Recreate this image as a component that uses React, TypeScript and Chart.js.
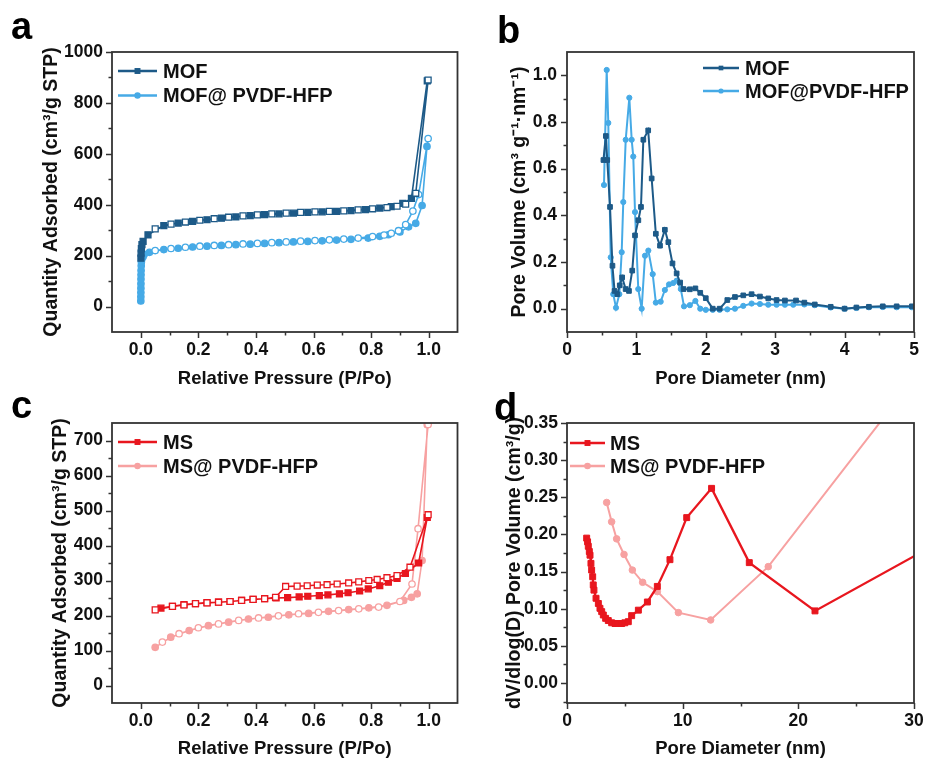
import React, { useEffect, useRef } from 'react';
import { Chart, registerables } from 'chart.js';
Chart.register(...registerables);

const FONT = "'Liberation Sans', Arial, Helvetica, sans-serif";
const INK = '#111111';
const DARK_BLUE = '#1d5a88';
const LIGHT_BLUE = '#46aae6';
const RED = '#e8161e';
const PINK = '#f7a1a1';

// ---------- Panel a : N2 isotherms, MOF ----------
const aLabels = ['MOF', 'MOF@ PVDF-HFP'];
const aMofAdsX = [0.0004, 0.001, 0.002, 0.004, 0.008, 0.025, 0.08, 0.13, 0.18, 0.23, 0.28, 0.33, 0.38, 0.43, 0.48, 0.53, 0.58, 0.63, 0.68, 0.73, 0.78, 0.83, 0.87, 0.91, 0.94, 0.995];
const aMofAdsY = [190, 210, 228, 243, 256, 282, 318, 328, 335, 341, 347, 352, 357, 361, 364, 367, 370, 372, 374, 377, 381, 387, 393, 405, 425, 887];
const aMofDesX = [0.998, 0.955, 0.92, 0.89, 0.855, 0.805, 0.755, 0.705, 0.655, 0.605, 0.555, 0.505, 0.455, 0.405, 0.355, 0.305, 0.255, 0.205, 0.155, 0.105, 0.05];
const aMofDesY = [890, 445, 402, 394, 389, 384, 380, 376, 374, 372, 370, 367, 364, 360, 356, 351, 345, 339, 332, 324, 305];
const aPvdfAdsX = [0.0001, 0.0002, 0.0003, 0.0004, 0.0005, 0.0006, 0.0008, 0.001, 0.0015, 0.002, 0.004, 0.008, 0.012, 0.03, 0.08, 0.13, 0.18, 0.23, 0.28, 0.33, 0.38, 0.43, 0.48, 0.53, 0.58, 0.63, 0.68, 0.73, 0.79, 0.83, 0.86, 0.9, 0.93, 0.955, 0.977, 0.994];
const aPvdfAdsY = [22, 38, 55, 72, 90, 108, 125, 142, 160, 175, 188, 196, 205, 213, 224, 229, 234, 237, 240, 243, 245, 248, 251, 254, 256, 258, 261, 264, 269, 276, 282, 293, 313, 327, 397, 629];
const aPvdfDesX = [0.998, 0.965, 0.945, 0.92, 0.895, 0.87, 0.845, 0.805, 0.755, 0.705, 0.655, 0.605, 0.555, 0.505, 0.455, 0.405, 0.355, 0.305, 0.255, 0.205, 0.155, 0.105, 0.05];
const aPvdfDesY = [660, 440, 375, 322, 298, 288, 281, 275, 269, 265, 262, 259, 257, 254, 251, 248, 246, 243, 240, 237, 233, 228, 220];
const aXTicks = [0, 0.2, 0.4, 0.6, 0.8, 1.0];
const aYTicks = [0, 200, 400, 600, 800, 1000];

// ---------- Panel b : pore size distribution, MOF ----------
const bLabels = ['MOF', 'MOF@PVDF-HFP'];
const bMofX = [0.525, 0.56, 0.58, 0.62, 0.655, 0.685, 0.725, 0.76, 0.795, 0.845, 0.893, 0.94, 0.98, 1.028, 1.066, 1.10, 1.17, 1.22, 1.28, 1.34, 1.41, 1.46, 1.52, 1.58, 1.63, 1.68, 1.77, 1.85, 1.92, 2.0, 2.1, 2.2, 2.31, 2.42, 2.54, 2.66, 2.78, 2.9, 3.02, 3.14, 3.3, 3.42, 3.57, 3.8, 4.0, 4.17, 4.35, 4.55, 4.75, 4.97];
const bMofY = [0.637, 0.74, 0.637, 0.436, 0.184, 0.076, 0.062, 0.1, 0.134, 0.084, 0.076, 0.163, 0.314, 0.379, 0.436, 0.724, 0.764, 0.558, 0.321, 0.27, 0.338, 0.285, 0.194, 0.151, 0.112, 0.084, 0.083, 0.087, 0.068, 0.045, 0.0, 0.0, 0.037, 0.05, 0.057, 0.062, 0.052, 0.044, 0.037, 0.035, 0.035, 0.026, 0.018, 0.008, 0.0, 0.005, 0.008, 0.01, 0.01, 0.01];
const bPvdfX = [0.533, 0.572, 0.595, 0.63, 0.667, 0.706, 0.754, 0.788, 0.811, 0.846, 0.898, 0.932, 0.955, 0.98, 1.027, 1.076, 1.124, 1.172, 1.235, 1.28, 1.35, 1.41, 1.47, 1.53, 1.58, 1.64, 1.686, 1.77, 1.85, 1.92, 2.0, 2.1, 2.2, 2.31, 2.42, 2.54, 2.66, 2.78, 2.9, 3.02, 3.14, 3.26, 3.42, 3.57, 3.8, 4.0, 4.17, 4.35, 4.55, 4.75, 4.97];
const bPvdfY = [0.53, 1.023, 0.796, 0.22, 0.062, 0.004, 0.062, 0.242, 0.457, 0.724, 0.904, 0.724, 0.652, 0.414, 0.084, 0.0, 0.227, 0.249, 0.148, 0.026, 0.03, 0.08, 0.104, 0.11, 0.12, 0.084, 0.01, 0.015, 0.033, 0.0, -0.005, -0.005, -0.005, -0.003, 0.0, 0.012, 0.022, 0.02, 0.017, 0.017, 0.017, 0.017, 0.018, 0.015, 0.005, 0.0, 0.003, 0.006, 0.007, 0.006, 0.006];
const bXTicks = [0, 1, 2, 3, 4, 5];
const bYTicks = [0, 0.2, 0.4, 0.6, 0.8, 1.0];

// ---------- Panel c : N2 isotherms, MS ----------
const cLabels = ['MS', 'MS@ PVDF-HFP'];
const cMsAdsX = [0.07, 0.11, 0.15, 0.19, 0.23, 0.27, 0.31, 0.35, 0.39, 0.43, 0.47, 0.51, 0.55, 0.58, 0.62, 0.65, 0.69, 0.72, 0.76, 0.79, 0.83, 0.86, 0.89, 0.919, 0.965, 0.995];
const cMsAdsY = [221, 226, 231, 234, 237, 238, 240, 243, 246, 248, 250, 251, 253, 255, 257, 259, 262, 265, 270, 276, 285, 295, 306, 320, 350, 480];
const cMsDesX = [0.998, 0.935, 0.89, 0.855, 0.821, 0.792, 0.757, 0.722, 0.682, 0.647, 0.613, 0.578, 0.543, 0.503, 0.468, 0.43, 0.39, 0.35, 0.31, 0.27, 0.23, 0.19, 0.15, 0.11, 0.05];
const cMsDesY = [488, 338, 314, 308, 303, 300, 296, 293, 290, 288, 287, 285, 284, 283, 252, 248, 246, 243, 240, 238, 236, 234, 230, 226, 216];
const cPvdfAdsX = [0.05, 0.104, 0.168, 0.235, 0.305, 0.374, 0.443, 0.514, 0.583, 0.652, 0.722, 0.792, 0.855, 0.913, 0.94, 0.96, 0.977, 0.995];
const cPvdfAdsY = [109, 138, 157, 171, 181, 190, 195, 202, 206, 212, 217, 222, 229, 243, 252, 262, 357, 745];
const cPvdfDesX = [0.998, 0.963, 0.942, 0.9, 0.826, 0.757, 0.687, 0.617, 0.548, 0.478, 0.409, 0.34, 0.27, 0.2, 0.133, 0.075];
const cPvdfDesY = [746, 448, 290, 240, 224, 219, 214, 209, 205, 199, 193, 186, 176, 165, 148, 124];
const cXTicks = [0, 0.2, 0.4, 0.6, 0.8, 1.0];
const cYTicks = [0, 100, 200, 300, 400, 500, 600, 700];

// ---------- Panel d : pore size distribution, MS ----------
const dLabels = ['MS', 'MS@ PVDF-HFP'];
const dMsX = [1.70, 1.78, 1.84, 1.93, 1.99, 2.07, 2.13, 2.22, 2.27, 2.33, 2.51, 2.71, 2.85, 3.0, 3.14, 3.34, 3.57, 3.86, 4.15, 4.44, 4.73, 5.0, 5.3, 5.59, 6.17, 6.95, 7.81, 8.9, 10.35, 12.5, 15.76, 21.44, 35.5];
const dMsY = [0.195, 0.19, 0.184, 0.177, 0.172, 0.161, 0.152, 0.143, 0.132, 0.125, 0.114, 0.107, 0.1005, 0.096, 0.0915, 0.087, 0.084, 0.081, 0.080, 0.080, 0.080, 0.081, 0.0825, 0.0906, 0.098, 0.109, 0.130, 0.166, 0.2226, 0.262, 0.162, 0.097, 0.218];
const dPvdfX = [3.43, 3.86, 4.29, 4.93, 5.65, 6.54, 7.81, 9.63, 12.42, 17.4, 31.0];
const dPvdfY = [0.243, 0.217, 0.194, 0.173, 0.152, 0.1355, 0.123, 0.0947, 0.0848, 0.1566, 0.43];
const dXTicks = [0, 10, 20, 30];
const dYTicks = [0, 0.05, 0.1, 0.15, 0.2, 0.25, 0.3, 0.35];

// ---------- helpers ----------
function pts(xs: number[], ys: number[]) {
  return xs.map((x, i) => ({ x, y: ys[i] }));
}

function loopSeries(label: string, adsX: number[], adsY: number[], desX: number[], desY: number[], color: string, style: string, radius: number, lw: number) {
  const data = pts(adsX, adsY).concat(pts(desX, desY));
  const bg = adsX.map(() => color).concat(desX.map(() => '#ffffff'));
  return {
    label, data, borderColor: color, backgroundColor: color, pointBackgroundColor: bg,
    pointBorderColor: color, pointStyle: style, pointRadius: radius, pointBorderWidth: 1.3,
    borderWidth: lw, tension: 0, fill: false,
  };
}

function plainSeries(label: string, xs: number[], ys: number[], color: string, style: string, radius: number, lw: number) {
  return {
    label, data: pts(xs, ys), borderColor: color, backgroundColor: color, pointBackgroundColor: color,
    pointBorderColor: color, pointStyle: style, pointRadius: radius, pointBorderWidth: 1,
    borderWidth: lw, tension: 0, fill: false,
  };
}

const framePlugin = {
  id: 'frame',
  afterDraw(chart: any, _args: any, o: any) {
    const { ctx, chartArea: ca, scales } = chart;
    ctx.save();
    ctx.strokeStyle = '#333333';
    ctx.lineWidth = 1.5;
    const tick = (scale: any, minor: number, majors: number[], horiz: boolean) => {
      const i0 = Math.ceil(scale.min / minor - 1e-6);
      const i1 = Math.floor(scale.max / minor + 1e-6);
      for (let i = i0; i <= i1; i++) {
        const v = i * minor;
        const isMajor = majors.some((m) => Math.abs(m - v) < minor * 0.01);
        const atEdge = Math.abs(v - scale.min) < minor * 0.01 || Math.abs(v - scale.max) < minor * 0.01;
        if (atEdge && !isMajor) continue;
        const len = isMajor ? 6 : 3.5;
        const p = Math.round(scale.getPixelForValue(v)) + 0.5;
        ctx.beginPath();
        if (horiz) { ctx.moveTo(p, ca.bottom); ctx.lineTo(p, ca.bottom + len); }
        else { ctx.moveTo(ca.left, p); ctx.lineTo(ca.left - len, p); }
        ctx.stroke();
      }
    };
    tick(scales.x, o.xMinor, o.xMajors, true);
    tick(scales.y, o.yMinor, o.yMajors, false);
    ctx.lineWidth = 1.8;
    ctx.strokeRect(ca.left, ca.top, ca.right - ca.left, ca.bottom - ca.top);

    // legend
    chart.data.datasets.forEach((ds: any, i: number) => {
      const x0 = ca.left + o.legX;
      const y = ca.top + o.legY + i * o.legGap;
      ctx.strokeStyle = ds.borderColor;
      ctx.lineWidth = 2.4;
      ctx.beginPath();
      ctx.moveTo(x0, y);
      ctx.lineTo(x0 + o.legLen, y);
      ctx.stroke();
      const cx = x0 + o.legLen / 2;
      ctx.fillStyle = ds.borderColor;
      ctx.beginPath();
      if (ds.pointStyle === 'rect') {
        const s = ds.pointRadius * Math.SQRT1_2;
        ctx.rect(cx - s, y - s, 2 * s, 2 * s);
      } else {
        ctx.arc(cx, y, ds.pointRadius, 0, Math.PI * 2);
      }
      ctx.fill();
      ctx.fillStyle = INK;
      ctx.font = `bold 20px ${FONT}`;
      ctx.textBaseline = 'middle';
      ctx.textAlign = 'left';
      ctx.fillText(ds.label, x0 + o.legLen + o.legTextGap, y + 1);
    });

    // panel letter
    ctx.fillStyle = '#000000';
    ctx.font = `bold 38px ${FONT}`;
    ctx.textBaseline = 'alphabetic';
    ctx.textAlign = 'left';
    ctx.fillText(o.letter, o.letterX, o.letterY);
    ctx.restore();
  },
};

type AxisSpec = {
  min: number; max: number; ticks: number[]; fmt: (v: number) => string; title: string; size: number; titlePad: any; pad: number;
};

function makeScales(x: AxisSpec, y: AxisSpec) {
  const tickFont = { family: FONT, size: 17.5, weight: 'bold' as const };
  const grid = { display: false, drawTicks: false, tickLength: 0 };
  const noPad = (s: any) => { s.paddingLeft = 0; s.paddingRight = 0; s.paddingTop = 0; s.paddingBottom = 0; };
  return {
    x: {
      type: 'linear' as const, min: x.min, max: x.max,
      afterFit: (s: any) => { s.height = x.size; noPad(s); },
      afterBuildTicks: (s: any) => { s.ticks = x.ticks.map((v) => ({ value: v })); },
      ticks: { callback: (v: any) => x.fmt(Number(v)), font: tickFont, color: INK, padding: x.pad, maxRotation: 0, autoSkip: false },
      grid, border: { display: false },
      title: { display: true, text: x.title, color: INK, font: { family: FONT, size: 18.5, weight: 'bold' as const, lineHeight: 1.2 }, padding: x.titlePad },
    },
    y: {
      type: 'linear' as const, min: y.min, max: y.max,
      afterFit: (s: any) => { s.width = y.size; noPad(s); },
      afterBuildTicks: (s: any) => { s.ticks = y.ticks.map((v) => ({ value: v })); },
      ticks: { callback: (v: any) => y.fmt(Number(v)), font: tickFont, color: INK, padding: y.pad, autoSkip: false },
      grid, border: { display: false },
      title: { display: true, text: y.title, color: INK, font: { family: FONT, size: 19.5, weight: 'bold' as const, lineHeight: 1.2 }, padding: y.titlePad },
    },
  };
}

function buildConfig(datasets: any[], scales: any, padding: any, frame: any) {
  return {
    type: 'line' as const,
    data: { datasets },
    options: {
      responsive: false, animation: false as const, devicePixelRatio: 1,
      layout: { padding },
      scales,
      plugins: { legend: { display: false }, tooltip: { enabled: false }, frame },
    },
    plugins: [framePlugin],
  };
}

const f1 = (v: number) => v.toFixed(1);
const f2 = (v: number) => v.toFixed(2);
const f0 = (v: number) => String(Math.round(v));

export default function App() {
  const ra = useRef<HTMLCanvasElement>(null);
  const rb = useRef<HTMLCanvasElement>(null);
  const rc = useRef<HTMLCanvasElement>(null);
  const rd = useRef<HTMLCanvasElement>(null);

  useEffect(() => {
    const charts: Chart[] = [];

    // Panel a
    charts.push(new Chart(ra.current!, buildConfig(
      [
        loopSeries(aLabels[0], aMofAdsX, aMofAdsY, aMofDesX, aMofDesY, DARK_BLUE, 'rect', 4.2, 1.6),
        loopSeries(aLabels[1], aPvdfAdsX, aPvdfAdsY, aPvdfDesX, aPvdfDesY, LIGHT_BLUE, 'circle', 3.2, 1.6),
      ],
      makeScales(
        { min: -0.1, max: 1.1, ticks: aXTicks, fmt: f1, title: 'Relative Pressure (P/Po)', size: 58, titlePad: { top: 0, bottom: 0 }, pad: 8 },
        { min: -100, max: 1000, ticks: aYTicks, fmt: f0, title: 'Quantity Adsorbed (cm³/g STP)', size: 76, titlePad: { top: 4, bottom: 0 }, pad: 9 },
      ),
      { left: 36, top: 52, right: 2, bottom: 0 },
      { xMinor: 0.1, yMinor: 100, xMajors: aXTicks, yMajors: aYTicks, legX: 6, legY: 19, legGap: 24.5, legLen: 39, legTextGap: 6, letter: 'a', letterX: 11, letterY: 39 },
    ) as any));

    // Panel b
    charts.push(new Chart(rb.current!, buildConfig(
      [
        plainSeries(bLabels[0], bMofX, bMofY, DARK_BLUE, 'rect', 3.3, 2),
        plainSeries(bLabels[1], bPvdfX, bPvdfY, LIGHT_BLUE, 'circle', 2.6, 2),
      ],
      makeScales(
        { min: 0, max: 5, ticks: bXTicks, fmt: f0, title: 'Pore Diameter (nm)', size: 58, titlePad: { top: 0, bottom: 0 }, pad: 8 },
        { min: -0.1, max: 1.1, ticks: bYTicks, fmt: f1, title: 'Pore Volume (cm³ g⁻¹·nm⁻¹)', size: 63, titlePad: { top: 4, bottom: 0 }, pad: 10 },
      ),
      { left: 41, top: 52, right: 13, bottom: 0 },
      { xMinor: 0.5, yMinor: 0.1, xMajors: bXTicks, yMajors: bYTicks, legX: 136, legY: 16, legGap: 23, legLen: 36, legTextGap: 6, letter: 'b', letterX: 34, letterY: 43 },
    ) as any));

    // Panel c
    charts.push(new Chart(rc.current!, buildConfig(
      [
        loopSeries(cLabels[0], cMsAdsX, cMsAdsY, cMsDesX, cMsDesY, RED, 'rect', 4.2, 1.6),
        loopSeries(cLabels[1], cPvdfAdsX, cPvdfAdsY, cPvdfDesX, cPvdfDesY, PINK, 'circle', 3.2, 1.6),
      ],
      makeScales(
        { min: -0.1, max: 1.1, ticks: cXTicks, fmt: f1, title: 'Relative Pressure (P/Po)', size: 57, titlePad: { top: 0, bottom: 0 }, pad: 8 },
        { min: -50, max: 750, ticks: cYTicks, fmt: f0, title: 'Quantity Adsorbed (cm³/g STP)', size: 67, titlePad: { top: 4, bottom: 0 }, pad: 9 },
      ),
      { left: 45, top: 33, right: 2, bottom: 0 },
      { xMinor: 0.1, yMinor: 50, xMajors: cXTicks, yMajors: cYTicks, legX: 6, legY: 19, legGap: 24, legLen: 39, legTextGap: 6, letter: 'c', letterX: 11, letterY: 28 },
    ) as any));

    // Panel d
    charts.push(new Chart(rd.current!, buildConfig(
      [
        plainSeries(dLabels[0], dMsX, dMsY, RED, 'rect', 4.2, 2.3),
        plainSeries(dLabels[1], dPvdfX, dPvdfY, PINK, 'circle', 3.3, 2.0),
      ],
      makeScales(
        { min: 0, max: 30, ticks: dXTicks, fmt: f0, title: 'Pore Diameter (nm)', size: 57, titlePad: { top: 0, bottom: 0 }, pad: 8 },
        { min: -0.027, max: 0.35, ticks: dYTicks, fmt: f2, title: 'dV/dlog(D) Pore Volume (cm³/g)', size: 68, titlePad: { top: 4, bottom: 0 }, pad: 9 },
      ),
      { left: 36, top: 33, right: 13, bottom: 0 },
      { xMinor: 5, yMinor: 0.025, xMajors: dXTicks, yMajors: dYTicks, legX: 3, legY: 20, legGap: 23, legLen: 35, legTextGap: 5, letter: 'd', letterX: 31, letterY: 30 },
    ) as any));

    return () => { charts.forEach((c) => c.destroy()); };
  }, []);

  const cv = (left: number, top: number, w: number, h: number): React.CSSProperties => ({
    position: 'absolute', left, top, width: w, height: h, display: 'block',
  });

  return (
    <div style={{ position: 'fixed', left: 0, top: 0, width: 927, height: 760, background: '#ffffff', overflow: 'hidden' }}>
      <canvas ref={ra} width={463} height={390} style={cv(0, 0, 463, 390)} />
      <canvas ref={rb} width={464} height={390} style={cv(463, 0, 464, 390)} />
      <canvas ref={rc} width={463} height={370} style={cv(0, 390, 463, 370)} />
      <canvas ref={rd} width={464} height={370} style={cv(463, 390, 464, 370)} />
    </div>
  );
}
